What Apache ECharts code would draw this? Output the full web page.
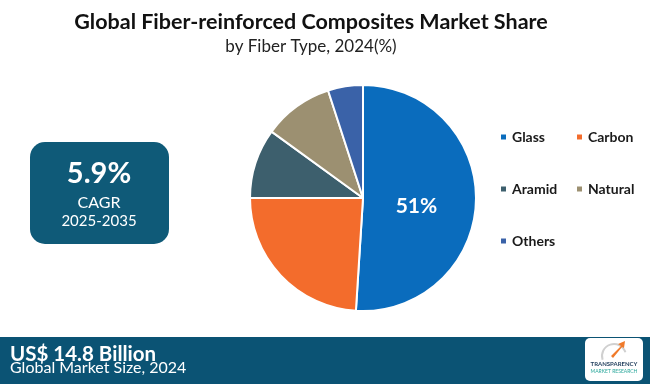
<!DOCTYPE html>
<html>
<head>
<meta charset="utf-8">
<script src="https://cdn.jsdelivr.net/npm/echarts@6/dist/echarts.min.js"></script>
<style>
html,body{margin:0;padding:0;background:#fff;}
#main{width:650px;height:384px;}
</style>
</head>
<body>
<div id="main"></div>
<script>
var categories = ['Glass', 'Carbon', 'Aramid', 'Natural', 'Others'];
var shares = [51, 24, 10, 10, 5];
var colors = ['#0a6cbd', '#f36c2c', '#3d5f6d', '#9c9071', '#3a62a8'];
var titleText = 'Global Fiber-reinforced Composites Market Share';
var subtitleText = 'by Fiber Type, 2024(%)';
var cagrValue = '5.9%';
var cagrLabel = 'CAGR';
var cagrPeriod = '2025-2035';
var marketSize = 'US$ 14.8 Billion';
var marketLabel = 'Global Market Size, 2024';

var chart = echarts.init(document.getElementById('main'), null, {renderer: 'canvas'});
var pieData = categories.map(function (c, i) {
  return {name: c, value: shares[i], itemStyle: {color: colors[i]}};
});
var legendText = {fontFamily: 'Lato', fontWeight: 'bold', fontSize: 14, color: '#1a1a1a'};
var option = {
  backgroundColor: '#ffffff',
  animation: false,
  legend: [{
    data: ['Glass', 'Aramid', 'Others'],
    orient: 'vertical', left: 494, top: 125,
    itemWidth: 7, itemHeight: 7, itemGap: 38,
    icon: 'rect', textStyle: legendText, selectedMode: false
  }, {
    data: ['Carbon', 'Natural'],
    orient: 'vertical', left: 570, top: 125,
    itemWidth: 7, itemHeight: 7, itemGap: 38,
    icon: 'rect', textStyle: legendText, selectedMode: false
  }],
  series: [{
    type: 'pie',
    center: [363, 198],
    radius: [0, 113],
    startAngle: 90,
    clockwise: true,
    itemStyle: {borderColor: '#ffffff', borderWidth: 2},
    label: {
      show: true, position: 'inside',
      formatter: function (p) { return p.dataIndex === 0 ? p.value + '%' : ''; },
      fontFamily: 'Lato', fontWeight: 'bold', fontSize: 21, color: '#ffffff',
      offset: [-6, 6]
    },
    labelLine: {show: false},
    emphasis: {disabled: true},
    data: pieData
  }],
  graphic: [
    {type: 'text', style: {x: 311, y: 22, text: titleText, textAlign: 'center', textVerticalAlign: 'middle', fill: '#111', font: 'bold 21.5px Lato'}},
    {type: 'text', style: {x: 311, y: 47, text: subtitleText, textAlign: 'center', textVerticalAlign: 'middle', fill: '#222', font: 'normal 17px Lato'}},
    {type: 'rect', shape: {x: 30, y: 142, width: 139, height: 102, r: 15}, style: {fill: '#0f5a78'}},
    {type: 'text', style: {x: 99, y: 174, text: cagrValue, textAlign: 'center', textVerticalAlign: 'middle', fill: '#fff', font: 'bold 29px Lato'}},
    {type: 'text', style: {x: 99, y: 203, text: cagrLabel, textAlign: 'center', textVerticalAlign: 'middle', fill: '#fff', font: 'normal 16px Lato'}},
    {type: 'text', style: {x: 99, y: 221, text: cagrPeriod, textAlign: 'center', textVerticalAlign: 'middle', fill: '#fff', font: 'normal 15px Lato'}},
    {type: 'rect', shape: {x: 0, y: 337, width: 650, height: 47}, style: {fill: '#0b5374'}},
    {type: 'text', style: {x: 10, y: 354, text: marketSize, textAlign: 'left', textVerticalAlign: 'middle', fill: '#fff', font: 'bold 20.5px Lato'}},
    {type: 'text', style: {x: 10, y: 368, text: marketLabel, textAlign: 'left', textVerticalAlign: 'middle', fill: '#fff', font: 'normal 16px Lato'}},
    {type: 'rect', shape: {x: 585, y: 338, width: 58, height: 43, r: 5}, style: {fill: '#ffffff'}},
    {type: 'arc', shape: {cx: 614, cy: 356, r: 12, startAngle: Math.PI * 0.9, endAngle: Math.PI * 1.9}, style: {stroke: '#d0d0d0', lineWidth: 2, fill: null}},
    {type: 'polygon', shape: {points: [[611, 356], [621, 346], [618, 344], [625, 341], [624, 348], [622, 347], [613, 358]]}, style: {fill: '#f07a2a'}},
    {type: 'text', style: {x: 614, y: 364, text: 'TRANSPARENCY', textAlign: 'center', textVerticalAlign: 'middle', fill: '#1d3b5a', font: 'bold 6px Lato'}},
    {type: 'text', style: {x: 614, y: 371, text: 'MARKET RESEARCH', textAlign: 'center', textVerticalAlign: 'middle', fill: '#2aa79b', font: 'normal 5px Lato'}}
  ]
};
chart.setOption(option);
</script>
</body>
</html>
